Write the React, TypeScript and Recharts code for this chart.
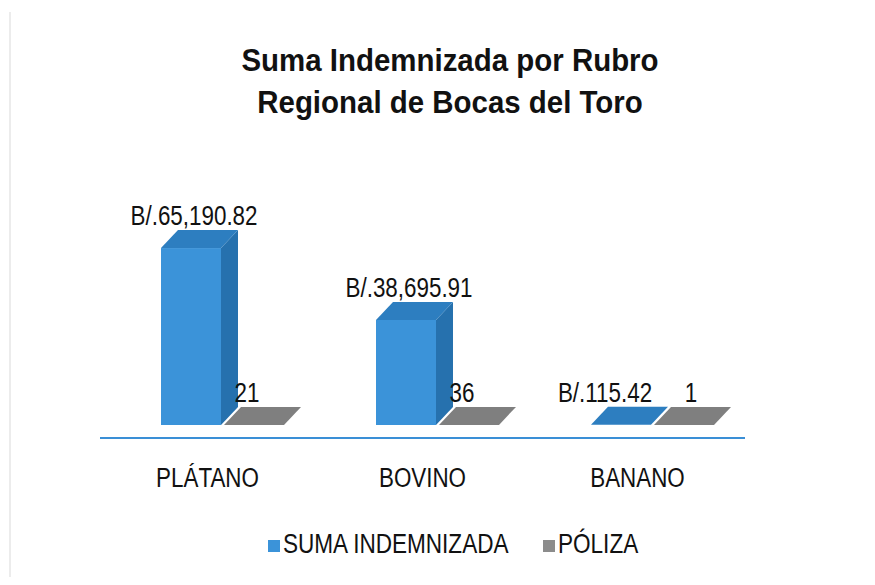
import { BarChart, Bar, XAxis, YAxis, LabelList, Legend } from 'recharts';

const rubros = ['PLÁTANO', 'BOVINO', 'BANANO'];
const sumaIndemnizada = [65190.82, 38695.91, 115.42];
const polizas = [21, 36, 1];

const data = rubros.map((name, i) => ({ name, suma: sumaIndemnizada[i], poliza: polizas[i] }));

const FONT = '"Liberation Sans", Arial, sans-serif';
// 3d look: bars sit a bit behind the floor edge, with some depth
const SX = 15, SY = -13, DX = 17, DY = -18;

const faces: Record<string, { front: string; top: string; side: string }> = {
  suma: { front: '#3b93d9', top: '#2d7ec0', side: '#2671ae' },
  poliza: { front: '#8c8c8c', top: '#7f7f7f', side: '#6e6e6e' },
};

// both bars of a category are flat -> labels get spread apart
const maxSuma = Math.max(...sumaIndemnizada);
const isFlat = (i: number) => sumaIndemnizada[i] < maxSuma * 0.01;

// narrow text (no Arial Narrow here, so squeeze the regular one)
function NarrowText({ x, y, size, sx = 0.82, anchor = 'middle', children }: any) {
  return (
    <text transform={`translate(${x},${y}) scale(${sx},1)`} textAnchor={anchor} fontSize={size} fontFamily={FONT} fill="#111">
      {children}
    </text>
  );
}

function Bar3D(props: any) {
  const { x, y, width: w, height: h, dataKey } = props;
  const c = faces[dataKey] || faces.suma;
  const x0 = x + SX, y0 = y + SY;
  const top = `${x0},${y0} ${x0 + DX},${y0 + DY} ${x0 + w + DX},${y0 + DY} ${x0 + w},${y0}`;
  const side = `${x0 + w},${y0} ${x0 + w + DX},${y0 + DY} ${x0 + w + DX},${y0 + h + DY} ${x0 + w},${y0 + h}`;
  return (
    <g>
      {h > 0.5 && <rect x={x0} y={y0} width={w} height={h} fill={c.front} />}
      {h > 0.5 && <polygon points={side} fill={c.side} />}
      <polygon points={top} fill={c.top} />
    </g>
  );
}

const money = (v: number) => 'B/.' + v.toLocaleString('en-US', { minimumFractionDigits: 2, maximumFractionDigits: 2 });

function valueLabel(fmt: (v: number) => string, dxOff: number, flatOff: number) {
  return (p: any) => {
    const { x, y, width, value, index } = p;
    const off = isFlat(index) ? flatOff : dxOff;
    return (
      <NarrowText x={x + width / 2 + SX + off} y={y + SY + DY - 5} size={27} sx={0.83}>
        {fmt(value)}
      </NarrowText>
    );
  };
}

function CategoryTick(p: any) {
  const { x, y, payload } = p;
  return <NarrowText x={x} y={y + 47} size={28} sx={0.8}>{payload.value}</NarrowText>;
}

function LegendBox() {
  return (
    <svg width={875} height={40} style={{ display: 'block' }}>
      <rect x={268} y={16} width={12} height={12} fill="#3b93d9" />
      <NarrowText x={283} y={29} size={28} sx={0.806} anchor="start">SUMA INDEMNIZADA</NarrowText>
      <rect x={543} y={16} width={12} height={12} fill="#8c8c8c" />
      <NarrowText x={558} y={29} size={28} sx={0.806} anchor="start">PÓLIZA</NarrowText>
    </svg>
  );
}

export default function App() {
  return (
    <div style={{ position: 'relative', width: 875, height: 585, background: '#fff', margin: -8 }}>
      <div style={{ position: 'absolute', left: 9, top: 12, bottom: 0, width: 2, background: '#ececec' }} />
      <div style={{ position: 'absolute', left: 0, top: 39, width: 900, textAlign: 'center', fontFamily: FONT, fontWeight: 700, fontSize: 32, lineHeight: '42px', color: '#111', transform: 'scaleX(0.92)' }}>
        Suma Indemnizada por Rubro<br />Regional de Bocas del Toro
      </div>
      <BarChart width={875} height={585} data={data} margin={{ top: 248, right: 130, bottom: 107, left: 100 }} barSize={60} barGap={3}>
        <XAxis dataKey="name" height={40} axisLine={{ stroke: '#3a8fd6', strokeWidth: 2 }} tickLine={false} tickSize={0}
          tick={<CategoryTick />} interval={0} />
        <YAxis hide domain={[0, 70000]} />
        <Legend layout="horizontal" verticalAlign="middle" align="center" content={<LegendBox />}
          wrapperStyle={{ top: 524, left: 0, width: 875 }} />
        <Bar dataKey="suma" name="SUMA INDEMNIZADA" fill="#3b93d9" shape={Bar3D} isAnimationActive={false}>
          <LabelList dataKey="suma" content={valueLabel(money, 3, -16)} />
        </Bar>
        <Bar dataKey="poliza" name="PÓLIZA" fill="#8c8c8c" shape={Bar3D} isAnimationActive={false}>
          <LabelList dataKey="poliza" content={valueLabel((v) => String(v), -7, 7)} />
        </Bar>
      </BarChart>
    </div>
  );
}
